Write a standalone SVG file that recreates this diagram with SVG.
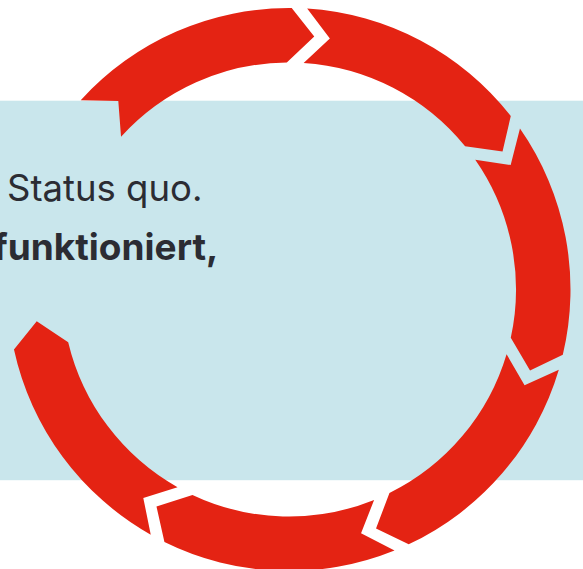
<svg xmlns="http://www.w3.org/2000/svg" width="583" height="569" viewBox="0 0 583 569">
  <style>
    .bg { fill: #c9e6ec; }
    .seg { fill: #e42313; }
    .t { font-family: Inter, "Noto Sans", "Liberation Sans", sans-serif; fill: #2b2c33; }
    .reg { font-size: 36.5px; font-weight: 400; }
    .bold { font-size: 37px; font-weight: 700; }
  </style>
  <rect class="bg" x="0" y="100.7" width="583" height="379.5"/>
  <g id="text">
    <text class="t reg" x="7" y="201">Status quo.</text>
    <text class="t bold" x="-7" y="260">funktioniert,</text>
  </g>
  <g id="cycle">
    <path id="seg1" class="seg" d="M80.72,100.16 A281.5,281.5 0 0 1 291.7,8.01 L314.25,36.5 L286.8,62.5 A227,227 0 0 0 121.04,136.82 L118.3,101.1 Z"/>
    <path id="seg2" class="seg" d="M307.17,8.59 A281.5,281.5 0 0 1 510.77,116.1 L502.54,151.52 L465.11,146.29 A227,227 0 0 0 303.64,62.98 L329.86,38.55 Z"/>
    <path id="seg3" class="seg" d="M519.97,128.57 A281.5,281.5 0 0 1 562.82,354.78 L530.03,370.4 L510.78,337.87 A227,227 0 0 0 475.25,159.72 L510.66,164.99 Z"/>
    <path id="seg4" class="seg" d="M558.82,369.73 A281.5,281.5 0 0 1 408.69,544.29 L376.03,528.39 L389.45,493.05 A227,227 0 0 0 506.58,354.2 L524.56,385.17 Z"/>
    <path id="seg5" class="seg" d="M394.53,550.48 A281.5,281.5 0 0 1 164.44,541.92 L156.48,506.48 L192.48,494.96 A227,227 0 0 0 374.1,499.95 L361.05,533.33 Z"/>
    <path id="seg6" class="seg" d="M150.75,534.69 A281.5,281.5 0 0 1 13.97,349.49 L36.73,321.18 L68.2,342.14 A227,227 0 0 0 177.52,487.22 L143.29,497.88 Z"/>
  </g>
</svg>
